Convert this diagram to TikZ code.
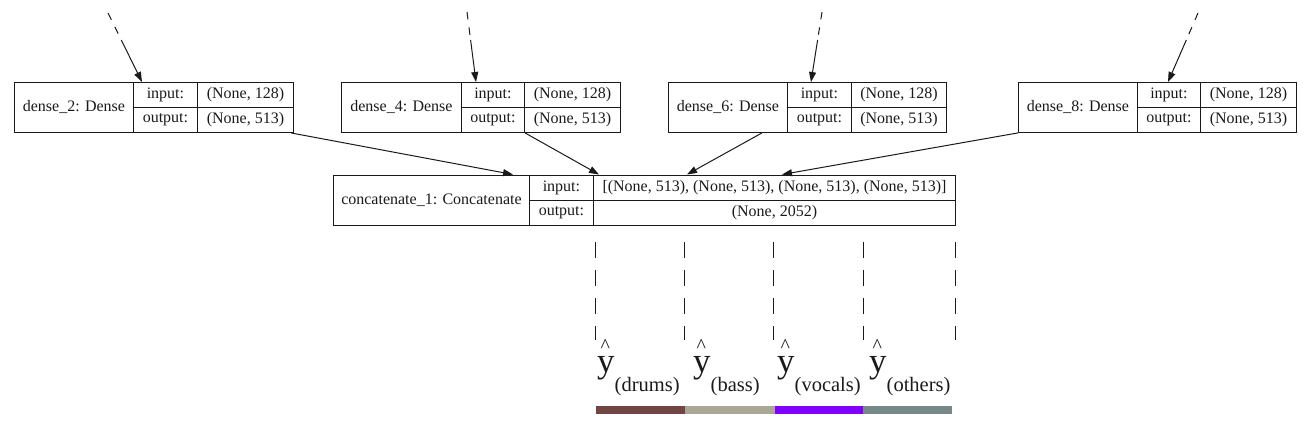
\documentclass[tikz,border=0pt]{standalone}
\usepackage{fontspec}
\setmainfont{Liberation Serif}
\usetikzlibrary{arrows.meta,calc}
\definecolor{cdrums}{HTML}{724545}
\definecolor{cbass}{HTML}{A9A796}
\definecolor{cvocals}{HTML}{7F00FF}
\definecolor{cothers}{HTML}{778888}
\definecolor{ink}{HTML}{1A1A1A}
\newcommand\mkrecord[9]{%
  \node[cell,minimum width=#3-#2,minimum height=50] (#1-n) at (#2,#6) {#7};
  \node[cell,minimum width=#4-#3,minimum height=25] (#1-il) at (#3,#6) {input:};
  \node[cell,minimum width=#5-#4,minimum height=25] (#1-iv) at (#4,#6) {#8};
  \node[cell,minimum width=#4-#3,minimum height=25] (#1-ol) at (#3,#6+25) {output:};
  \node[cell,minimum width=#5-#4,minimum height=25] (#1-ov) at (#4,#6+25) {#9};
}
\newcommand\yhatlab[1]{\rlap{\hspace{3.3pt}\raisebox{19.6pt}{\fontsize{20}{20}\selectfont\textasciicircum}}{\fontsize{35}{35}\selectfont y}\raisebox{-19pt}{\fontsize{20.5}{20.5}\selectfont(#1)}}
\begin{document}
\begin{tikzpicture}[x=1pt,y=-1pt,
  cell/.style={draw=ink,line width=0.9pt,inner sep=0pt,anchor=north west,font=\fontsize{16}{16}\selectfont,text=ink},
  arr/.style={-{Triangle[length=10pt,width=7pt]},line width=1pt,ink},
  feed/.style={line width=1pt,ink,dash pattern=on 7.5pt off 8pt},
  guide/.style={line width=0.8pt,ink,dash pattern=on 16pt off 12pt},
  ylab/.style={inner sep=0pt,anchor=base west,text=ink}]
\useasboundingbox (0,0) rectangle (1306,426);

\mkrecord{d2}{14}{133}{197}{293}{82}{dense\_2: Dense}{(None, 128)}{(None, 513)}
\mkrecord{d4}{341}{461}{524}{620}{82}{dense\_4: Dense}{(None, 128)}{(None, 513)}
\mkrecord{d6}{668}{787}{851}{946}{82}{dense\_6: Dense}{(None, 128)}{(None, 513)}
\mkrecord{d8}{1018}{1137}{1200}{1296}{82}{dense\_8: Dense}{(None, 128)}{(None, 513)}
\mkrecord{cc}{333}{529}{593}{955}{174.5}{concatenate\_1: Concatenate}{[(None, 513), (None, 513), (None, 513), (None, 513)]}{(None, 2052)}

% incoming feeds
\coordinate (s2) at (108,13);   \coordinate (m2) at (121.3,40);
\coordinate (s4) at (467,12);   \coordinate (m4) at (470.6,40);
\coordinate (s6) at (822,12);   \coordinate (m6) at (817.6,40);
\coordinate (s8) at (1198,13);  \coordinate (m8) at (1186.3,40);
\draw[feed] (s2) -- (m2);
\draw[feed] (s4) -- (m4);
\draw[feed] (s6) -- (m6);
\draw[feed] (s8) -- (m8);
\draw[arr] (m2) -- ($(d2-il.north west)+(9,0)$);
\draw[arr] (m4) -- ($(d4-il.north west)+(15,0)$);
\draw[arr] (m6) -- ($(d6-il.north west)+(24,0)$);
\draw[arr] (m8) -- ($(d8-il.north west)+(31,0)$);

% into concatenate
\draw[arr] ($(d2-ov.south east)+(-3,0)$) -- ($(cc-n.north west)+(180,0)$);
\draw[arr] ($(d4-ov.south west)+(1,0)$) -- ($(cc-iv.north west)+(6,0)$);
\draw[arr] ($(d6-n.south west)+(94,0)$) -- ($(cc-iv.north west)+(94,0)$);
\draw[arr] (d8-n.south west) -- ($(cc-iv.north west)+(189,0)$);

% guide lines
\foreach \i/\x in {1/595,2/684,3/773,4/863,5/955}{
  \coordinate (ga\i) at (\x,242);
  \coordinate (gb\i) at (\x,340);
  \draw[guide] (ga\i) -- (gb\i);
}

% labels
\node[ylab] (ldrums) at (597,372) {\yhatlab{drums}};
\node[ylab] (lbass) at (693,372) {\yhatlab{bass}};
\node[ylab] (lvocals) at (777,372) {\yhatlab{vocals}};
\node[ylab] (lothers) at (869,372) {\yhatlab{others}};

% colour bar
\fill[cdrums] (596,406) rectangle (685,414);
\fill[cbass] (685,406) rectangle (775,414);
\fill[cvocals] (775,406) rectangle (863,414);
\fill[cothers] (863,406) rectangle (952,414);
\end{tikzpicture}
\end{document}
